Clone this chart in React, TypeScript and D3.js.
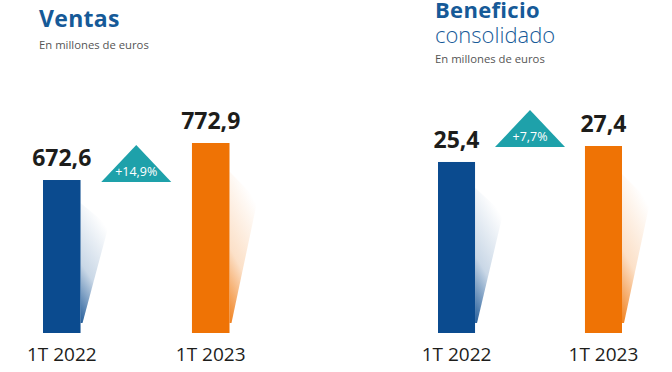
import React, { useEffect, useRef } from 'react';
import * as d3 from 'd3';

const categories = ['1T 2022', '1T 2023'];
const ventasValues = [672.6, 772.9];
const beneficioValues = [25.4, 27.4];
const ventasChange = '+14,9%';
const beneficioChange = '+7,7%';

const BLUE = '#0b4b8f';
const ORANGE = '#ef7305';
const TEAL = '#1ea1aa';
const TITLE = '#165a98';

const panels = [
  {
    id: 'ventas',
    titleBold: 'Ventas',
    titleLight: '',
    values: ventasValues,
    change: ventasChange,
    x: 39,
    titleY: 27,
    subY: 49,
    range: [43, 229.5],
    domain: [258, 772.9],
    top: 143,
    badgeBase: 182,
  },
  {
    id: 'beneficio',
    titleBold: 'Beneficio',
    titleLight: 'consolidado',
    values: beneficioValues,
    change: beneficioChange,
    x: 435,
    titleY: 18,
    subY: 63,
    range: [438, 622],
    domain: [4, 27.4],
    top: 146,
    badgeBase: 147,
  },
];

const W = 672;
const H = 372;
const BOTTOM = 333;
const FONT = "'Open Sans', 'Noto Sans', sans-serif";

const App = () => {
  const ref = useRef<SVGSVGElement>(null);

  useEffect(() => {
    const svg = d3.select(ref.current);
    svg.selectAll('*').remove();
    svg.attr('width', W).attr('height', H);

    const defs = svg.append('defs');
    [
      ['shadeBlue', BLUE],
      ['shadeOrange', ORANGE],
    ].forEach(([id, c]) => {
      const g = defs
        .append('linearGradient')
        .attr('id', id)
        .attr('x1', 0)
        .attr('y1', 1)
        .attr('x2', 0.35)
        .attr('y2', 0);
      g.append('stop').attr('offset', '0%').attr('stop-color', c).attr('stop-opacity', 0.9);
      g.append('stop').attr('offset', '45%').attr('stop-color', c).attr('stop-opacity', 0.22);
      g.append('stop').attr('offset', '100%').attr('stop-color', c).attr('stop-opacity', 0);
    });

    panels.forEach(p => {
      const g = svg.append('g');

      // titles
      g.append('text')
        .attr('x', p.x)
        .attr('y', p.titleY)
        .attr('fill', TITLE)
        .style('font-family', FONT)
        .style('font-weight', 700)
        .style('font-size', p.titleLight ? '22px' : '23px')
        .style('letter-spacing', '0.3px')
        .text(p.titleBold);
      if (p.titleLight) {
        g.append('text')
          .attr('x', p.x)
          .attr('y', p.titleY + 25)
          .attr('fill', TITLE)
          .style('font-family', FONT)
          .style('font-weight', 300)
          .style('font-size', '22px')
          .text(p.titleLight);
      }
      g.append('text')
        .attr('x', p.x)
        .attr('y', p.subY)
        .attr('fill', '#555')
        .style('font-family', FONT)
        .style('font-size', '11.3px')
        .text('En millones de euros');

      const x = d3.scaleBand().domain(categories).range(p.range).paddingInner(0.748).paddingOuter(0);
      const y = d3.scaleLinear().domain(p.domain).range([BOTTOM, p.top]);
      const bw = x.bandwidth();
      const colors = [BLUE, ORANGE];
      const shades = ['url(#shadeBlue)', 'url(#shadeOrange)'];

      const data = categories.map((c, i) => ({ c, v: p.values[i], i }));

      // shadows
      g.selectAll('path.shade')
        .data(data)
        .enter()
        .append('path')
        .attr('class', 'shade')
        .attr('fill', d => shades[d.i])
        .attr('d', d => {
          const x1 = (x(d.c) as number) + bw;
          const t = y(d.v);
          const h = BOTTOM - t;
          return `M${x1},${BOTTOM - 10}L${x1},${t + h * 0.15}L${x1 + 28},${t + h * 0.3}L${x1 + 2},${BOTTOM - 10}Z`;
        });

      // bars
      g.selectAll('rect.bar')
        .data(data)
        .enter()
        .append('rect')
        .attr('class', 'bar')
        .attr('x', d => x(d.c) as number)
        .attr('y', d => y(d.v))
        .attr('width', bw)
        .attr('height', d => BOTTOM - y(d.v))
        .attr('fill', d => colors[d.i]);

      // value labels
      g.selectAll('text.val')
        .data(data)
        .enter()
        .append('text')
        .attr('class', 'val')
        .attr('x', d => (x(d.c) as number) + bw / 2)
        .attr('y', d => y(d.v) - 14)
        .attr('text-anchor', 'middle')
        .attr('fill', '#1d1d1b')
        .style('font-family', FONT)
        .style('font-weight', 700)
        .style('font-size', '23px')
        .text(d => d3.format('.1f')(d.v).replace('.', ','));

      // category labels
      g.selectAll('text.cat')
        .data(data)
        .enter()
        .append('text')
        .attr('class', 'cat')
        .attr('x', d => (x(d.c) as number) + bw / 2)
        .attr('y', 361)
        .attr('text-anchor', 'middle')
        .attr('fill', '#1d1d1b')
        .style('font-family', FONT)
        .style('font-size', '19px')
        .text(d => d.c);

      // change badge
      const cx = ((x(categories[0]) as number) + bw + (x(categories[1]) as number)) / 2;
      const b = p.badgeBase;
      g.append('path')
        .attr('d', `M${cx - 35},${b}L${cx},${b - 37}L${cx + 35},${b}Z`)
        .attr('fill', TEAL);
      g.append('text')
        .attr('x', cx)
        .attr('y', b - 6)
        .attr('text-anchor', 'middle')
        .attr('fill', '#fff')
        .style('font-family', FONT)
        .style('font-size', '12.5px')
        .text(p.change);
    });
  }, []);

  return <svg ref={ref} style={{ position: 'absolute', left: 0, top: 0, background: '#fff' }}></svg>;
};

export default App;
